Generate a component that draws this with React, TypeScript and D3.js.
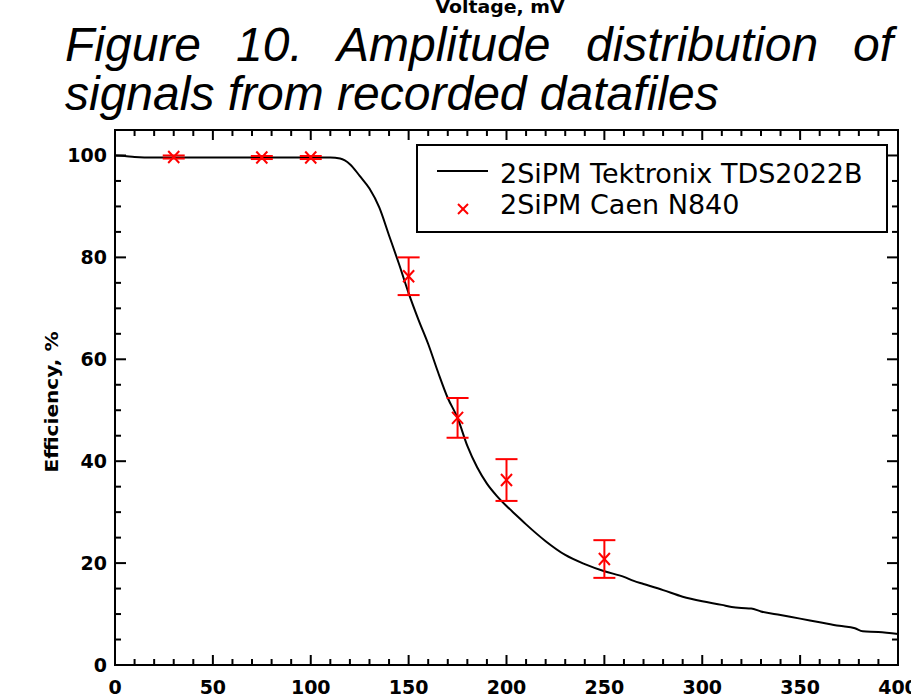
import React from "react";
import * as d3 from "d3";

// Tektronix curve (voltage threshold, mV -> efficiency, %)
const curveX = [0, 5, 10, 20, 40, 60, 80, 100, 110, 115, 120, 125, 130, 135, 140, 145, 150, 155, 160, 165, 170, 175, 180, 185, 190, 195, 200, 205, 210, 220, 230, 240, 250, 260, 265, 270, 280, 290, 300, 310, 315, 320, 325, 330, 340, 350, 360, 370, 378, 382, 390, 400];
const curveY = [100, 99.9, 99.7, 99.6, 99.6, 99.6, 99.6, 99.6, 99.6, 99.4, 98.3, 96, 93.5, 89.8, 84.3, 78.8, 73, 67.8, 63, 57.5, 52.4, 48.5, 43, 38.8, 35.6, 33.2, 31.2, 29.4, 27.6, 24.3, 21.6, 19.8, 18.4, 17.3, 16.5, 15.9, 14.7, 13.4, 12.5, 11.8, 11.4, 11.2, 11.1, 10.5, 9.8, 9.1, 8.4, 7.7, 7.2, 6.6, 6.5, 6.1];

// Caen N840 measurements
const caenX = [30, 75, 100, 150, 175, 200, 250];
const caenY = [99.7, 99.6, 99.6, 76.3, 48.5, 36.3, 20.8];
const caenErr = [0.3, 0.3, 0.3, 3.7, 3.9, 4.1, 3.7];

const xTicks = [0, 50, 100, 150, 200, 250, 300, 350, 400];
const yTicks = [0, 20, 40, 60, 80, 100];

const titleLine1 = ["Figure", "10.", "Amplitude", "distribution", "of"];
const titleLine2 = "signals from recorded datafiles";
const legendNames = ["2SiPM Tektronix TDS2022B", "2SiPM Caen N840"];

const W = 911;
const H = 699;
const left = 115, right = 898, top = 130, bottom = 665;

export default function App() {
  const x = d3.scaleLinear().domain([0, 400]).range([left, right]);
  const y = d3.scaleLinear().domain([0, 105]).range([bottom, top]);

  const line = d3
    .line<number>()
    .x((_, i) => x(curveX[i]))
    .y((d) => y(d))
    .curve(d3.curveMonotoneX);

  const xMinor = d3.range(0, 401, 10);
  const yMinor = d3.range(0, 106, 5);
  const tickFont = "'DejaVu Sans', Verdana, sans-serif";

  // word start positions for the justified first title line
  const wordX = [65, 236, 337, 586];

  return (
    <svg width={W} height={H} style={{ position: "absolute", left: 0, top: 0, background: "#fff" }}>
      {/* x axis label, cut off by the top edge */}
      <text x={500} y={13} textAnchor="middle" fontFamily={tickFont} fontWeight="bold" fontSize={17} textLength={129} lengthAdjust="spacingAndGlyphs">
        Voltage, mV
      </text>

      {/* title overlay */}
      <g fontFamily="'Liberation Sans', Arial, sans-serif" fontStyle="italic" fontSize={48} fill="#000">
        {titleLine1.map((w, i) =>
          i < 4 ? (
            <text key={w} x={wordX[i]} y={61}>{w}</text>
          ) : (
            <text key={w} x={893} y={61} textAnchor="end">{w}</text>
          )
        )}
        <text x={65} y={110}>{titleLine2}</text>
      </g>

      {/* frame ticks */}
      <g stroke="#000" strokeWidth={2}>
        {xMinor.map((v) => {
          const len = v % 50 === 0 ? 10 : 6;
          return (
            <g key={"x" + v}>
              <line x1={x(v)} x2={x(v)} y1={bottom} y2={bottom - len} />
              <line x1={x(v)} x2={x(v)} y1={top} y2={top + len} />
            </g>
          );
        })}
        {yMinor.map((v) => {
          const len = v % 20 === 0 ? 11 : 6;
          return (
            <g key={"y" + v}>
              <line x1={left} x2={left + len} y1={y(v)} y2={y(v)} />
              <line x1={right} x2={right - len} y1={y(v)} y2={y(v)} />
            </g>
          );
        })}
      </g>
      <rect x={left} y={top} width={right - left} height={bottom - top} fill="none" stroke="#000" strokeWidth={2} />

      {/* tick labels */}
      <g fontFamily={tickFont} fontWeight="bold" fontSize={19}>
        {xTicks.map((v) => (
          <text key={v} x={x(v)} y={694} textAnchor="middle">{v}</text>
        ))}
        {yTicks.map((v) => (
          <text key={v} x={107} y={y(v)} dy="0.36em" textAnchor="end">{v}</text>
        ))}
      </g>

      <text transform="translate(58,402) rotate(-90)" textAnchor="middle" fontFamily={tickFont} fontWeight="bold" fontSize={17} textLength={141} lengthAdjust="spacingAndGlyphs">
        Efficiency, %
      </text>

      {/* curve */}
      <path d={line(curveY) ?? ""} fill="none" stroke="#000" strokeWidth={2} />

      {/* Caen points with error bars */}
      <g stroke="#ff0000" strokeWidth={2}>
        {caenX.map((v, i) => {
          const cx = x(v);
          const cy = y(caenY[i]);
          const yt = y(caenY[i] + caenErr[i]);
          const yb = y(caenY[i] - caenErr[i]);
          return (
            <g key={v}>
              <line x1={cx} x2={cx} y1={yt} y2={yb} />
              <line x1={cx - 11} x2={cx + 11} y1={yt} y2={yt} />
              <line x1={cx - 11} x2={cx + 11} y1={yb} y2={yb} />
              <line x1={cx - 5.5} x2={cx + 5.5} y1={cy - 6} y2={cy + 6} />
              <line x1={cx - 5.5} x2={cx + 5.5} y1={cy + 6} y2={cy - 6} />
            </g>
          );
        })}
      </g>

      {/* legend */}
      <rect x={417} y={145} width={470} height={87} fill="#fff" stroke="#000" strokeWidth={2} />
      <line x1={437} x2={488} y1={171} y2={171} stroke="#000" strokeWidth={2} />
      <g stroke="#ff0000" strokeWidth={2}>
        <line x1={458} x2={468} y1={204} y2={214} />
        <line x1={458} x2={468} y1={214} y2={204} />
      </g>
      <g fontFamily={tickFont} fontSize={27}>
        <text x={500} y={183}>{legendNames[0]}</text>
        <text x={500} y={214}>{legendNames[1]}</text>
      </g>
    </svg>
  );
}
